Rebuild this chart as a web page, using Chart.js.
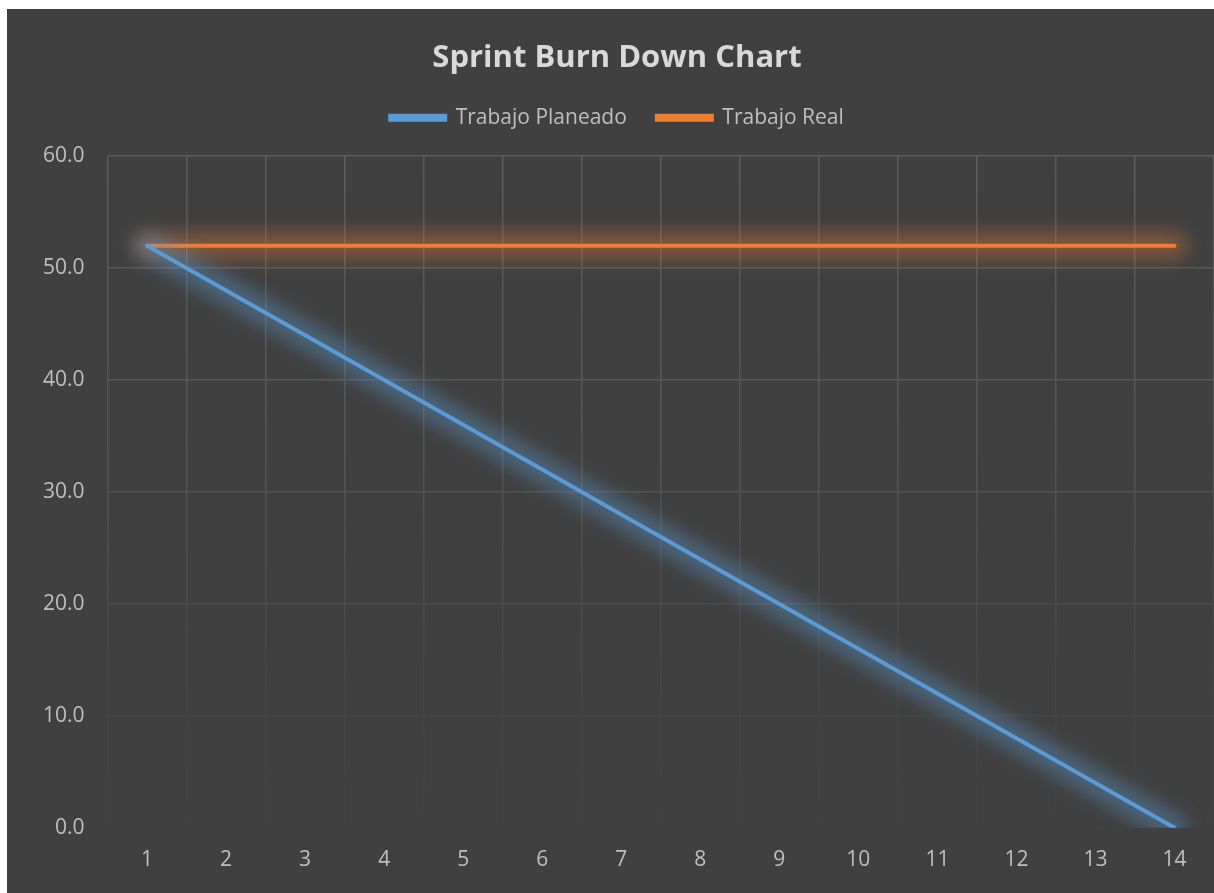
<!DOCTYPE html>
<html>
<head>
<meta charset="utf-8">
<title>Sprint Burn Down Chart</title>
<script src="https://cdn.jsdelivr.net/npm/chart.js@4.4.0/dist/chart.umd.min.js"></script>
<style>
  html, body { margin: 0; padding: 0; background: #ffffff; overflow: hidden; }
  #wrap { position: absolute; left: 7px; top: 9px; width: 1207px; height: 884px; background: #404040; }
</style>
</head>
<body>
<div id="wrap"><canvas id="burnChart"></canvas></div>
<script>
// days of the sprint
const days = ['1', '2', '3', '4', '5', '6', '7', '8', '9', '10', '11', '12', '13', '14'];
// values
const planned = [52, 48, 44, 40, 36, 32, 28, 24, 20, 16, 12, 8, 4, 0];
const real = [52, 52, 52, 52, 52, 52, 52, 52, 52, 52, 52, 52, 52, 52];
const yTicks = [0, 10, 20, 30, 40, 50, 60];

const blue = '#5b9bd5';
const orange = '#ed7d31';
const tickColor = '#bfbfbf';

// grid fades out toward the bottom
function gridColor(c) {
  const area = c.chart.chartArea;
  if (!area) return '#595959';
  const g = c.chart.ctx.createLinearGradient(0, area.top, 0, area.bottom);
  g.addColorStop(0, '#5c5c5c');
  g.addColorStop(0.45, '#555555');
  g.addColorStop(0.8, '#464646');
  g.addColorStop(1, '#414141');
  return g;
}

// soft glow under each line: draw the same path wide + blurred first
const glow = {
  id: 'glow',
  beforeDatasetDraw(chart, args) {
    const ds = chart.data.datasets[args.index];
    const el = args.meta.dataset;
    if (!el) return;
    const ctx = chart.ctx;
    const a = chart.chartArea;
    const o = el.options;
    const bw = o.borderWidth, bc = o.borderColor;
    ctx.save();
    ctx.beginPath();
    ctx.rect(a.left, a.top - 30, a.right - a.left, a.bottom - a.top + 30);
    ctx.clip();
    ctx.filter = 'blur(9px)';
    o.borderWidth = 26;
    o.borderColor = ds.glowColor;
    el.draw(ctx, a);
    o.borderWidth = bw;
    o.borderColor = bc;
    ctx.restore();
  }
};

// a bit more room between legend and plot
const legendGap = {
  id: 'legendGap',
  beforeInit(chart) {
    const fit = chart.legend.fit;
    chart.legend.fit = function () {
      fit.call(this);
      this.height += 18;
    };
  }
};

const ctx = document.getElementById('burnChart').getContext('2d');
new Chart(ctx, {
  type: 'line',
  data: {
    labels: days,
    datasets: [{
      label: 'Trabajo Planeado',
      data: planned,
      borderColor: blue,
      backgroundColor: blue,
      glowColor: 'rgba(91,155,213,0.42)',
      borderWidth: 4,
      borderCapStyle: 'round',
      pointRadius: 0,
      tension: 0
    }, {
      label: 'Trabajo Real',
      data: real,
      borderColor: orange,
      backgroundColor: orange,
      glowColor: 'rgba(237,125,49,0.38)',
      borderWidth: 4,
      borderCapStyle: 'round',
      pointRadius: 0,
      tension: 0
    }]
  },
  options: {
    responsive: true,
    maintainAspectRatio: false,
    animation: false,
    layout: { padding: { left: 13, right: 0, top: 31, bottom: 0 } },
    plugins: {
      title: {
        display: true,
        text: 'Sprint Burn Down Chart',
        color: '#d9d9d9',
        font: { family: 'Open Sans', size: 31, weight: 'bold' },
        padding: { top: 0, bottom: 0 }
      },
      legend: {
        labels: {
          color: tickColor,
          font: { family: 'Open Sans', size: 21 },
          boxWidth: 55,
          boxHeight: 4,
          padding: 30
        }
      },
      tooltip: { enabled: false }
    },
    scales: {
      x: {
        offset: true,
        grid: { offset: true, color: gridColor, lineWidth: 1.5, drawTicks: false },
        border: { display: false },
        ticks: { color: tickColor, font: { family: 'Open Sans', size: 21 }, padding: 20 }
      },
      y: {
        min: 0,
        max: 60,
        afterBuildTicks(axis) { axis.ticks = yTicks.map(v => ({ value: v })); },
        grid: { color: gridColor, lineWidth: 1.5, drawTicks: false },
        border: { display: false },
        ticks: {
          color: tickColor,
          font: { family: 'Open Sans', size: 21 },
          padding: 23,
          callback: v => v.toFixed(1)
        }
      }
    }
  },
  plugins: [glow, legendGap]
});
</script>
</body>
</html>
